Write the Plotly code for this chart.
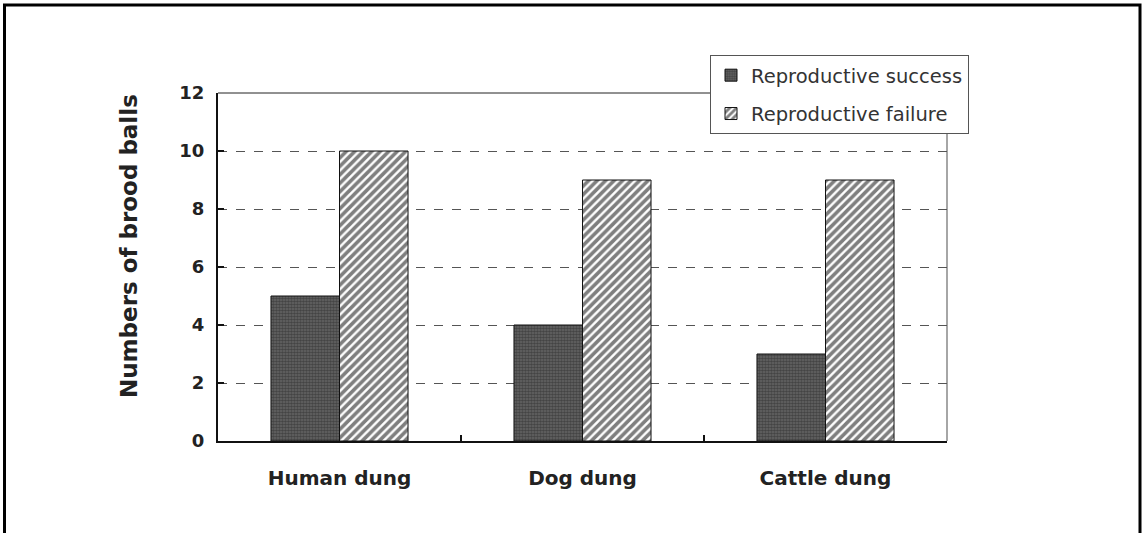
import plotly.graph_objects as go

categories = ["Human dung", "Dog dung", "Cattle dung"]
success = [5, 4, 3]
failure = [10, 9, 9]
y_ticks = [0, 2, 4, 6, 8, 10, 12]
series_names = ["Reproductive success", "Reproductive failure"]

L, R, T, B = 218, 196, 93, 92
W, H = 1143, 533
pw, ph = W - L - R, H - T - B

def px(x):
    return (x - L) / pw

def py(y):
    return (H - B - y) / ph

fig = go.Figure()
fig.add_trace(go.Bar(
    x=categories, y=success, name=series_names[0], legendgroup="a",
    marker=dict(color="#4d4d4d", line=dict(color="#111", width=1),
                pattern=dict(shape=".", fgcolor="#222", bgcolor="#666",
                             size=3, solidity=0.6)),
))
fig.add_trace(go.Bar(
    x=categories, y=failure, name=series_names[1], legendgroup="b",
    marker=dict(color="white", line=dict(color="#111", width=1),
                pattern=dict(shape="/", fgcolor="#000", bgcolor="white",
                             size=6, solidity=0.6)),
))

fig.update_layout(
    width=W, height=H,
    margin=dict(l=L, r=R, t=T, b=B, pad=0),
    paper_bgcolor="white", plot_bgcolor="white",
    barmode="group", bargap=0.436, bargroupgap=0,
    font=dict(family="DejaVu Sans", color="#222"),
    legend=dict(
        x=px(710), y=py(55), xanchor="left", yanchor="top",
        bgcolor="white", bordercolor="#555", borderwidth=1,
        font=dict(size=19.5, color="#333"),
        tracegroupgap=10, itemwidth=30, entrywidth=280,
    ),
    showlegend=True,
)

fig.update_xaxes(
    type="category", range=[-0.5, 2.5],
    showline=True, linecolor="#111", linewidth=2,
    ticks="inside", tickson="boundaries", ticklen=6, tickwidth=2, tickcolor="#111",
    tickfont=dict(size=20, family="DejaVu Sans", weight="bold", color="#222"),
    ticklabelstandoff=18, showgrid=False,
)
fig.update_yaxes(
    range=[0, 12], tickvals=y_ticks,
    showline=True, linecolor="#111", linewidth=2,
    ticks="inside", ticklen=6, tickwidth=2, tickcolor="#111",
    tickfont=dict(size=18, family="DejaVu Sans", weight="bold", color="#222"),
    ticklabelstandoff=8,
    showgrid=True, gridcolor="#555", gridwidth=1, griddash="dash",
    zeroline=False,
)

# plot frame: top and right edges
fig.add_shape(type="line", xref="paper", yref="paper", x0=0, x1=1, y0=1, y1=1,
              line=dict(color="#222", width=1), layer="below")
fig.add_shape(type="line", xref="paper", yref="paper", x0=1, x1=1, y0=0, y1=1,
              line=dict(color="#888", width=1.5), layer="below")
# outer picture frame
fig.add_shape(type="rect", xref="paper", yref="paper",
              x0=px(4.5), x1=px(1140), y0=py(545), y1=py(5),
              line=dict(color="black", width=3), fillcolor="rgba(0,0,0,0)")

fig.add_annotation(
    text="Numbers of brood balls", textangle=-90,
    xref="paper", yref="paper", x=px(114), y=py(246),
    showarrow=False, font=dict(size=23, family="DejaVu Sans", weight="bold", color="#222"),
)

fig.write_html("out.html", config={"displayModeBar": False},
               post_script="document.body.style.margin='0px';document.body.style.overflow='hidden';")
